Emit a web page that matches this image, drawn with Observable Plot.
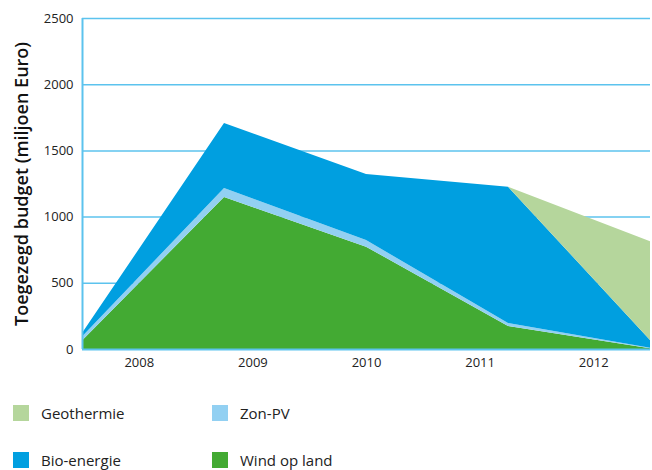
<!DOCTYPE html>
<html>
<head>
<meta charset="utf-8">
<script src="https://cdn.jsdelivr.net/npm/d3@7"></script>
<script src="https://cdn.jsdelivr.net/npm/@observablehq/plot@0.6"></script>
<style>
  html, body { margin: 0; padding: 0; background: #fff; }
  body { width: 652px; height: 470px; overflow: hidden; position: relative; font-family: "Open Sans", sans-serif; }
  #chart { position: absolute; left: 0; top: 0; }
  .legend { position: absolute; left: 0; top: 0; width: 652px; }
  .item { position: absolute; display: flex; align-items: center; font-size: 15px; color: #222; white-space: nowrap; }
  .sw { width: 16px; height: 16px; margin-right: 12px; }
</style>
</head>
<body>
<div id="chart"></div>
<div class="legend" id="legend"></div>
<script>
const years = ["2008", "2009", "2010", "2011", "2012"];
const windOpLand = [65, 1148, 773, 174, 5];
const zonPV = [30, 68, 50, 22, 5];
const bioEnergie = [25, 491, 499, 1030, 58];
const geothermie = [0, 0, 0, 0, 745];
const yTicks = [0, 500, 1000, 1500, 2000, 2500];

const seriesNames = ["Wind op land", "Zon-PV", "Bio-energie", "Geothermie"];
const seriesValues = [windOpLand, zonPV, bioEnergie, geothermie];
const colors = ["#43aa33", "#92d0f2", "#009fe0", "#b5d69c"];
const legendOrder = [["Geothermie", "Zon-PV"], ["Bio-energie", "Wind op land"]];

const n = years.length;
const rows = [];
seriesNames.forEach((s, k) => {
  seriesValues[k].forEach((v, i) => rows.push({ idx: i, series: s, value: v }));
});
// year labels centered in equal bands across the data span
const tickPos = years.map((y, i) => (i + 0.5) * (n - 1) / n);

const gridColor = "#5cc3ee";

const chart = Plot.plot({
  width: 652,
  height: 385,
  marginLeft: 82,
  marginRight: 2,
  marginTop: 18,
  marginBottom: 36,
  style: { fontFamily: "Open Sans, sans-serif", fontSize: "13px", color: "#222", background: "#fff" },
  x: { domain: [0, n - 1], axis: null },
  y: { domain: [0, 2500], axis: null },
  color: { domain: seriesNames, range: colors },
  marks: [
    Plot.ruleY(yTicks.filter(d => d > 0), { stroke: gridColor, strokeWidth: 1.5 }),
    Plot.areaY(rows, {
      x: "idx", y: "value", z: "series", fill: "series",
      order: seriesNames, curve: "linear"
    }),
    Plot.ruleY([0], { stroke: gridColor, strokeWidth: 2 }),
    Plot.ruleX([0], { stroke: gridColor, strokeWidth: 2 }),
    Plot.axisY(yTicks, { tickSize: 0, tickPadding: 9, fontSize: 13, label: null,
      tickFormat: d => String(d) }),
    Plot.axisX(tickPos, { tickSize: 0, tickPadding: 8, fontSize: 13, label: null,
      tickFormat: (d, i) => years[i] }),
    Plot.text(["Toegezegd budget (miljoen Euro)"], {
      frameAnchor: "left", textAnchor: "middle", dx: -60, rotate: -90,
      fontSize: 18, fontWeight: 600, fill: "#111"
    })
  ]
});
document.getElementById("chart").appendChild(chart);

const legend = document.getElementById("legend");
const colX = [13, 212];
const rowY = [405, 452];
legendOrder.forEach((row, r) => {
  row.forEach((name, c) => {
    const div = document.createElement("div");
    div.className = "item";
    div.style.left = colX[c] + "px";
    div.style.top = (rowY[r] - 2) + "px";
    const sw = document.createElement("span");
    sw.className = "sw";
    sw.style.background = colors[seriesNames.indexOf(name)];
    const t = document.createElement("span");
    t.textContent = name;
    div.appendChild(sw);
    div.appendChild(t);
    legend.appendChild(div);
  });
});
</script>
</body>
</html>
